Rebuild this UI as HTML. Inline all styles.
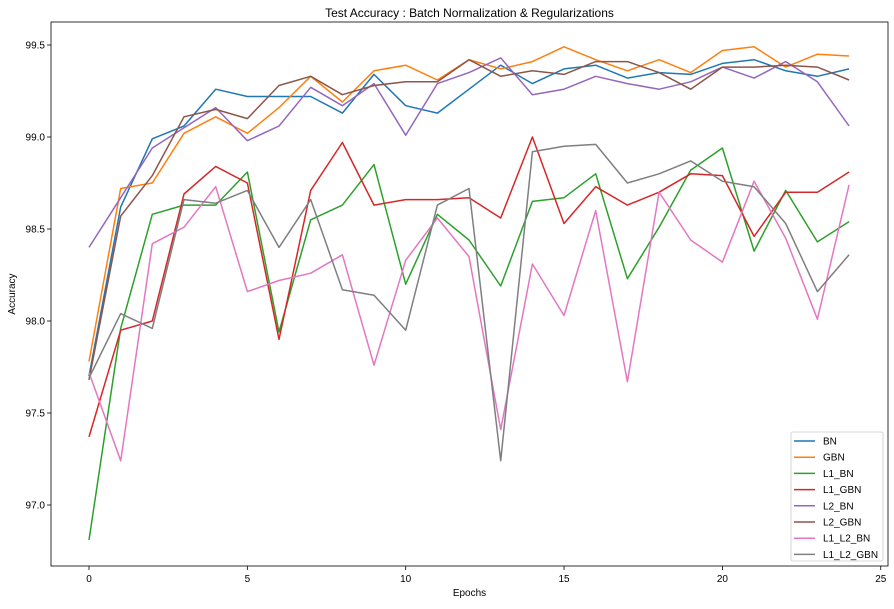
<!DOCTYPE html>
<html><head><meta charset="utf-8"><style>
body{margin:0;background:#fff;}
svg{font-family:"Liberation Sans","DejaVu Sans",sans-serif;}
</style></head><body>
<svg id="chart" width="894" height="604" xmlns="http://www.w3.org/2000/svg"></svg>
<script>
const epochs=[0,1,2,3,4,5,6,7,8,9,10,11,12,13,14,15,16,17,18,19,20,21,22,23,24];
const seriesNames=["BN","GBN","L1_BN","L1_GBN","L2_BN","L2_GBN","L1_L2_BN","L1_L2_GBN"];
const colors=["#1f77b4","#ff7f0e","#2ca02c","#d62728","#9467bd","#8c564b","#e377c2","#7f7f7f"];
const bn=[97.7,98.62,98.99,99.06,99.26,99.22,99.22,99.22,99.13,99.34,99.17,99.13,99.26,99.39,99.29,99.37,99.39,99.32,99.35,99.34,99.40,99.42,99.36,99.33,99.37];
const gbn=[97.78,98.72,98.75,99.02,99.11,99.02,99.16,99.33,99.19,99.36,99.39,99.31,99.42,99.37,99.41,99.49,99.42,99.36,99.42,99.35,99.47,99.49,99.38,99.45,99.44];
const l1bn=[96.81,97.96,98.58,98.63,98.63,98.81,97.94,98.55,98.63,98.85,98.20,98.58,98.44,98.19,98.65,98.67,98.80,98.23,98.51,98.82,98.94,98.38,98.71,98.43,98.54];
const l1gbn=[97.37,97.95,98.00,98.69,98.84,98.75,97.90,98.71,98.97,98.63,98.66,98.66,98.67,98.56,99.00,98.53,98.73,98.63,98.70,98.80,98.79,98.46,98.70,98.70,98.81];
const l2bn=[98.40,98.67,98.94,99.05,99.16,98.98,99.06,99.27,99.17,99.29,99.01,99.29,99.35,99.43,99.23,99.26,99.33,99.29,99.26,99.30,99.38,99.32,99.41,99.30,99.06];
const l2gbn=[97.68,98.57,98.79,99.11,99.15,99.10,99.28,99.33,99.23,99.28,99.30,99.30,99.42,99.33,99.36,99.34,99.41,99.41,99.35,99.26,99.38,99.38,99.39,99.38,99.31];
const l1l2bn=[97.72,97.24,98.42,98.51,98.73,98.16,98.22,98.26,98.36,97.76,98.33,98.56,98.35,97.41,98.31,98.03,98.60,97.67,98.70,98.44,98.32,98.76,98.45,98.01,98.74];
const l1l2gbn=[97.69,98.04,97.96,98.66,98.64,98.71,98.40,98.66,98.17,98.14,97.95,98.63,98.72,97.24,98.92,98.95,98.96,98.75,98.80,98.87,98.76,98.73,98.53,98.16,98.36];
const allSeries=[bn,gbn,l1bn,l1gbn,l2bn,l2gbn,l1l2bn,l1l2gbn];
const xTicks=[0,5,10,15,20,25];
const yTicks=[97.0,97.5,98.0,98.5,99.0,99.5];

const NS="http://www.w3.org/2000/svg";
const svg=document.getElementById('chart');
const L=51,R=888,T=22,B=566;
function xs(v){return 89+v*31.67;}
function ys(v){return 137+(99-v)*184;}
function mk(tag,attrs,parent){const e=document.createElementNS(NS,tag);for(const k in attrs)e.setAttribute(k,attrs[k]);(parent||svg).appendChild(e);return e;}

const title=mk('text',{x:(L+R)/2,y:17,'text-anchor':'middle','font-size':12,fill:'#000'});
title.textContent='Test Accuracy : Batch Normalization & Regularizations';



const gx=mk('g',{});


xTicks.forEach(t=>{
  const x=xs(t);
  mk('line',{x1:x,x2:x,y1:B,y2:B+4,stroke:'#000','stroke-width':0.8},gx);
  const tx=mk('text',{x:x,y:B+16,'text-anchor':'middle','font-size':10,fill:'#000'},gx);
  tx.textContent=t;
  
  
});
const xl=mk('text',{x:(L+R)/2,y:596,'text-anchor':'middle','font-size':10,fill:'#000'});
xl.textContent='Epochs';



const gy=mk('g',{});


yTicks.forEach(t=>{
  const y=ys(t);
  mk('line',{x1:L-4,x2:L,y1:y,y2:y,stroke:'#000','stroke-width':0.8},gy);
  const tx=mk('text',{x:L-6,y:y+3.5,'text-anchor':'end','font-size':10,fill:'#000'},gy);
  tx.textContent=t.toFixed(1);
  
  
});
const yl=mk('text',{x:15,y:(T+B)/2,'text-anchor':'middle','font-size':10,fill:'#000',transform:`rotate(-90 15 ${(T+B)/2})`});
yl.textContent='Accuracy';



allSeries.forEach((s,i)=>{
  const pts=s.map((v,j)=>xs(epochs[j]).toFixed(1)+','+ys(v).toFixed(1)).join(' ');
  const p=mk('polyline',{points:pts,fill:'none',stroke:colors[i],'stroke-width':1.5,'stroke-linejoin':'round'});
  
  
});

const frame=mk('rect',{x:L,y:T,width:R-L,height:B-T,fill:'none',stroke:'#000','stroke-width':0.8});



const lg=mk('g',{});


mk('rect',{x:791,y:432,width:92,height:129,rx:2,fill:'#fff','fill-opacity':0.8,stroke:'#ccc','stroke-width':0.8},lg);
seriesNames.forEach((n,i)=>{
  const y=441+i*16.2;
  const g=mk('g',{},lg);
  
  
  mk('line',{x1:794,x2:815,y1:y,y2:y,stroke:colors[i],'stroke-width':1.5},g);
  const t=mk('text',{x:823,y:y+3.5,'font-size':10,fill:'#000'},g);
  t.textContent=n;
});
</script>
</body></html>
